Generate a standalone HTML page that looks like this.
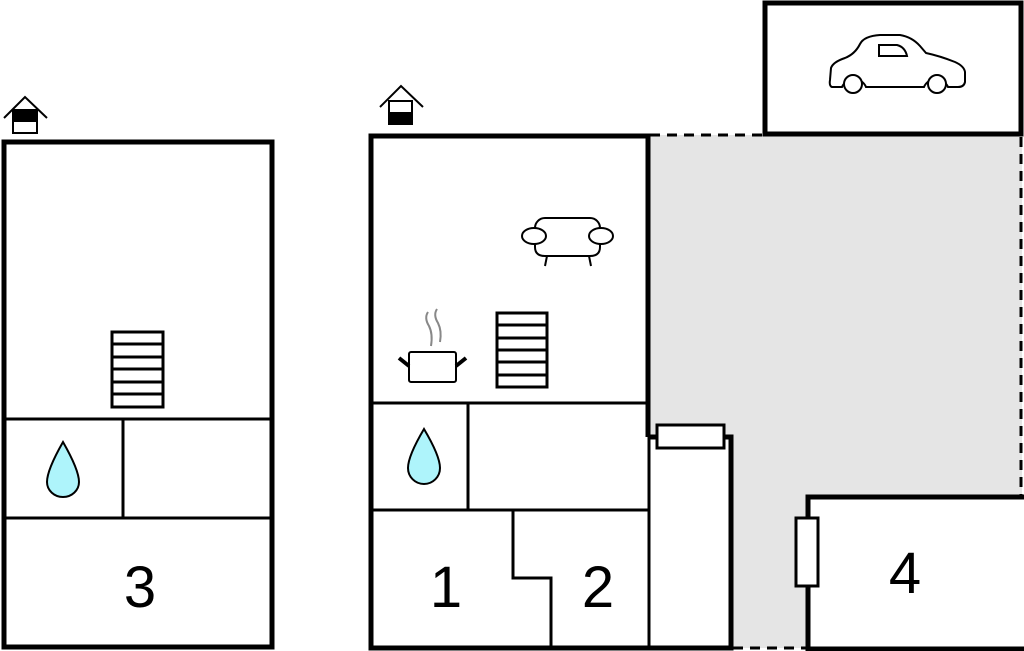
<!DOCTYPE html>
<html><head><style>html,body{margin:0;padding:0;background:#fff}svg{display:block}</style></head>
<body>
<svg width="1024" height="651" viewBox="0 0 1024 651" xmlns="http://www.w3.org/2000/svg" font-family="Liberation Sans, sans-serif">
<!-- gray yard -->
<rect x="650" y="135" width="372" height="513" fill="#e5e5e5"/>
<g stroke="#000" stroke-width="3" stroke-dasharray="10,7" fill="none">
<line x1="650" y1="135" x2="763" y2="135"/>
<line x1="1021" y1="137" x2="1021" y2="495"/>
<line x1="733" y1="648" x2="806" y2="648"/>
</g>
<!-- garage -->
<rect x="765" y="3" width="256" height="131" fill="#fff" stroke="#000" stroke-width="5"/>
<g fill="#fff" stroke="#000" stroke-width="2">
<path d="M832 87 Q829 86 830 80 L831 68 Q833 62 845 58 Q855 54 860 44 Q864 36 880 35 L900 35 Q912 37 920 46 L926 53 Q940 56 955 62 Q964 66 965 72 L965 82 Q964 87 958 87 L948 87 A13 13 0 0 0 924 87 L866 87 A13 13 0 0 0 842 87 Z"/>
<path d="M879 45 L897 45 Q905 47 907 56 L879 56 Z"/>
<circle cx="853" cy="84" r="9"/>
<circle cx="937" cy="84" r="9"/>
</g>
<!-- left building -->
<rect x="4" y="142" width="268" height="505" fill="#fff" stroke="#000" stroke-width="5"/>
<g stroke="#000" stroke-width="3" fill="none">
<line x1="4" y1="419" x2="272" y2="419"/>
<line x1="123" y1="419" x2="123" y2="518"/>
<line x1="4" y1="518" x2="272" y2="518"/>
<rect x="112" y="332" width="51" height="75" fill="#fff"/>
<line x1="112" y1="344" x2="163" y2="344"/><line x1="112" y1="357" x2="163" y2="357"/>
<line x1="112" y1="369" x2="163" y2="369"/><line x1="112" y1="382" x2="163" y2="382"/>
<line x1="112" y1="394" x2="163" y2="394"/>
</g>
<path d="M63 442 Q79 470 79 482 A16 15 0 0 1 47 482 Q47 470 63 442 Z" fill="#aef4fb" stroke="#000" stroke-width="2"/>
<text x="140" y="607" font-size="58" text-anchor="middle">3</text>
<!-- left house icon -->
<g stroke="#000" stroke-width="2" fill="none">
<polyline points="4,118 25,97 47,118"/>
<rect x="13" y="110" width="24" height="23" fill="#fff"/>
<rect x="13" y="110" width="24" height="11" fill="#000"/>
</g>
<!-- middle building -->
<rect x="370" y="135" width="278" height="512" fill="#fff" stroke="none"/>
<rect x="650" y="437" width="81" height="211" fill="#fff"/>
<g stroke="#000" stroke-width="5" fill="none">
<polyline points="648,437 648,136 371,136 371,648 731,648 731,437 724,437"/>
<line x1="648" y1="437" x2="657" y2="437"/>
</g>
<g stroke="#000" stroke-width="3" fill="none">
<line x1="371" y1="403" x2="648" y2="403"/>
<line x1="468" y1="403" x2="468" y2="510"/>
<line x1="371" y1="510" x2="648" y2="510"/>
<polyline points="513,510 513,578 551,578 551,648"/>
<line x1="649" y1="437" x2="649" y2="648"/>
<rect x="657" y="425" width="67" height="23" fill="#fff"/>
</g>
<!-- building 4 -->
<rect x="808" y="497" width="220" height="152" fill="#fff" stroke="#000" stroke-width="5"/>
<rect x="796" y="518" width="22" height="68" fill="#fff" stroke="#000" stroke-width="3"/>
<text x="905" y="593" font-size="58" text-anchor="middle">4</text>
<text x="446" y="607" font-size="58" text-anchor="middle">1</text>
<text x="598" y="607" font-size="58" text-anchor="middle">2</text>
<path d="M424 429 Q440 456 440 468 A16 16 0 0 1 408 468 Q408 456 424 429 Z" fill="#aef4fb" stroke="#000" stroke-width="2"/>
<!-- middle house icon -->
<g stroke="#000" stroke-width="2" fill="none">
<polyline points="380,107 401,86 423,107"/>
<rect x="389" y="101" width="23" height="23" fill="#fff"/>
<rect x="389" y="113" width="23" height="11" fill="#000"/>
</g>
<!-- stairs middle -->
<g stroke="#000" stroke-width="3" fill="#fff">
<rect x="497" y="313" width="50" height="74"/>
<line x1="497" y1="325" x2="547" y2="325"/><line x1="497" y1="338" x2="547" y2="338"/>
<line x1="497" y1="350" x2="547" y2="350"/><line x1="497" y1="362" x2="547" y2="362"/>
<line x1="497" y1="375" x2="547" y2="375"/>
</g>
<!-- sofa -->
<g stroke="#000" stroke-width="2" fill="#fff">
<rect x="535" y="218" width="65" height="28" rx="10"/>
<path d="M535 241 L535 247 Q535 256 545 256 L590 256 Q600 256 600 247 L600 241"/>
<ellipse cx="534" cy="236" rx="12" ry="8"/>
<ellipse cx="601" cy="236" rx="12" ry="8"/>
<line x1="547" y1="256" x2="545" y2="266"/>
<line x1="589" y1="256" x2="591" y2="266"/>
</g>
<!-- pot -->
<g stroke="#000" fill="#fff">
<rect x="409" y="352" width="47" height="30" rx="2" stroke-width="2"/>
<line x1="399" y1="358" x2="409" y2="366" stroke-width="4"/>
<line x1="456" y1="366" x2="466" y2="358" stroke-width="4"/>
</g>
<g stroke="#888" stroke-width="2" fill="none">
<path d="M428 312 Q424 318 429 326 Q433 334 431 346"/>
<path d="M437 309 Q433 315 438 323 Q442 331 440 342"/>
</g>
</svg>
</body></html>
